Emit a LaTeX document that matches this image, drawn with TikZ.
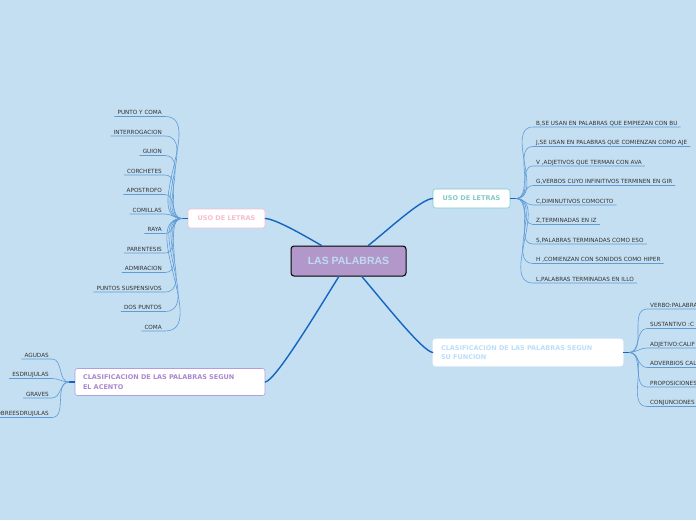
\documentclass[tikz,border=0pt]{standalone}
\usepackage{fontspec}
\setmainfont{DejaVu Sans}
\newfontfamily\rootfont{Liberation Sans}
\usetikzlibrary{positioning}

\definecolor{bgblue}{RGB}{196,223,242}
\definecolor{branchblue}{RGB}{21,101,192}
\definecolor{leafblue}{RGB}{95,155,215}
\definecolor{leaftext}{RGB}{50,50,50}
\definecolor{rootfill}{RGB}{178,152,202}
\definecolor{roottext}{RGB}{190,220,240}
\definecolor{pinkish}{RGB}{248,187,208}
\definecolor{tealish}{RGB}{128,203,196}
\definecolor{skyish}{RGB}{187,222,251}
\definecolor{purplish}{RGB}{179,157,219}
\definecolor{purpletext}{RGB}{171,135,204}

\tikzset{
  rootbox/.style={draw=black, line width=1pt, fill=rootfill, rounded corners=3pt,
    minimum width=115pt, minimum height=30pt, inner sep=0pt,
    text=roottext, font=\rootfont\bfseries\fontsize{10.5}{12}\selectfont},
  topicbox/.style={fill=white, line width=0.6pt, rounded corners=2.5pt, inner sep=0pt,
    font=\bfseries\fontsize{6.5}{9.5}\selectfont},
  widebox/.style={topicbox, text width=174pt, align=left, inner xsep=8pt, minimum height=27pt},
  leaf/.style={font=\fontsize{5.7}{6}\selectfont, text=leaftext, inner xsep=3pt,
    inner ysep=1.5pt, text height=4.2pt, text depth=0pt},
  leafleft/.style={leaf, anchor=south east},
  leafright/.style={leaf, anchor=south west},
  branch/.style={draw=branchblue, line width=1.4pt, line cap=round},
  hubline/.style={draw=branchblue, line width=1.2pt},
  leafline/.style={draw=leafblue, line width=0.6pt},
}

\begin{document}
\begin{tikzpicture}[x=1pt, y=-1pt]
    % Canvas
    \useasboundingbox (0,0) rectangle (696,520);
    \clip (0,0) rectangle (696,520);
    \fill[bgblue] (0,0) rectangle (696,520);

    % Main topics
    \node[rootbox] (root) at (348.5,261) {LAS PALABRAS};
    \node[topicbox, draw=pinkish, text=pinkish, minimum width=77pt, minimum height=19pt] (uso1) at (226.5,218.5) {USO DE LETRAS};
    \node[topicbox, draw=tealish, text=tealish, minimum width=77pt, minimum height=19pt] (uso2) at (471.5,198.5) {USO DE LETRAS};
    \node[widebox, draw=white, text=skyish] (fun) at (528,352.5) {CLASIFICACION DE LAS PALABRAS SEGUN\\SU FUNCION};
    \node[widebox, draw=purplish, text=purpletext] (acento) at (170,382) {CLASIFICACION DE LAS PALABRAS SEGUN\\EL ACENTO};

    % Branches from the root
    \draw[branch] (root) .. controls (305,236) and (276,219) .. (uso1.east);
    \draw[branch] (root) .. controls (388,230) and (421,199) .. (uso2.west);
    \draw[branch] (root) .. controls (382,300) and (422,351) .. (fun.west);
    \draw[branch] (root) .. controls (318,310) and (276,380) .. (acento.east);

    % Hubs
    \coordinate (h1) at (182,218.5);
    \coordinate (h2) at (516,198.5);
    \coordinate (h3) at (629,352.5);
    \coordinate (h4) at (69,382);
    \draw[hubline] (uso1.west) -- (h1);
    \draw[hubline] (uso2.east) -- (h2);
    \draw[hubline] (fun.east) -- (h3);
    \draw[hubline] (acento.west) -- (h4);

    % Leaves of the left USO DE LETRAS
    \node[leafleft] (p1) at (165,116.5) {PUNTO Y COMA};
    \node[leafleft] (p2) at (165,136) {INTERROGACION};
    \node[leafleft] (p3) at (165,155.5) {GUION};
    \node[leafleft] (p4) at (165,175) {CORCHETES};
    \node[leafleft] (p5) at (165,194.5) {APOSTROFO};
    \node[leafleft] (p6) at (165,214) {COMILLAS};
    \node[leafleft] (p7) at (165,233.5) {RAYA};
    \node[leafleft] (p8) at (165,253) {PARENTESIS};
    \node[leafleft] (p9) at (165,272.5) {ADMIRACION};
    \node[leafleft] (p10) at (165,292) {PUNTOS SUSPENSIVOS};
    \node[leafleft] (p11) at (165,311.5) {DOS PUNTOS};
    \node[leafleft] (p12) at (165,331) {COMA};
    \foreach \i in {1,...,12}
      \draw[leafline] (h1) to[out=180, in=0] (p\i.south east) -- (p\i.south west);

    % Leaves of the right USO DE LETRAS
    \node[leafright] (r1) at (533,127) {B,SE USAN EN PALABRAS QUE EMPIEZAN CON BU};
    \node[leafright] (r2) at (533,146.5) {J,SE USAN EN PALABRAS QUE COMIENZAN COMO AJE};
    \node[leafright] (r3) at (533,166) {V ,ADJETIVOS QUE TERMAN CON AVA};
    \node[leafright] (r4) at (533,185.5) {G,VERBOS CUYO INFINITIVOS TERMINEN EN GIR};
    \node[leafright] (r5) at (533,205) {C,DIMINUTIVOS COMOCITO};
    \node[leafright] (r6) at (533,224.5) {Z,TERMINADAS EN IZ};
    \node[leafright] (r7) at (533,244) {S,PALABRAS TERMINADAS COMO ESO};
    \node[leafright] (r8) at (533,263.5) {H ,COMIENZAN CON SONIDOS COMO HIPER};
    \node[leafright] (r9) at (533,283) {L,PALABRAS TERMINADAS EN ILLO};
    \foreach \i in {1,...,9}
      \draw[leafline] (h2) to[out=0, in=180] (r\i.south west) -- (r\i.south east);

    % Leaves of the function topic
    \node[leafright, text width=60pt] (f1) at (647,309) {VERBO:PALABRA};
    \node[leafright, text width=60pt] (f2) at (647,328.5) {SUSTANTIVO :C};
    \node[leafright, text width=60pt] (f3) at (647,348) {ADJETIVO:CALIF};
    \node[leafright, text width=60pt] (f4) at (647,367.5) {ADVERBIOS CAL};
    \node[leafright, text width=60pt] (f5) at (647,387) {PROPOSICIONES};
    \node[leafright, text width=60pt] (f6) at (647,406.5) {CONJUNCIONES};
    \foreach \i in {1,...,6}
      \draw[leafline] (h3) to[out=0, in=180] (f\i.south west) -- (f\i.south east);

    % Leaves of the accent topic
    \node[leafleft] (a1) at (52,359) {AGUDAS};
    \node[leafleft] (a2) at (52,378.5) {ESDRUJULAS};
    \node[leafleft] (a3) at (52,398) {GRAVES};
    \node[leafleft] (a4) at (52,417.5) {SOBREESDRUJULAS};
    \foreach \i in {1,...,4}
      \draw[leafline] (h4) to[out=180, in=0] (a\i.south east) -- (a\i.south west);
\end{tikzpicture}
\end{document}
